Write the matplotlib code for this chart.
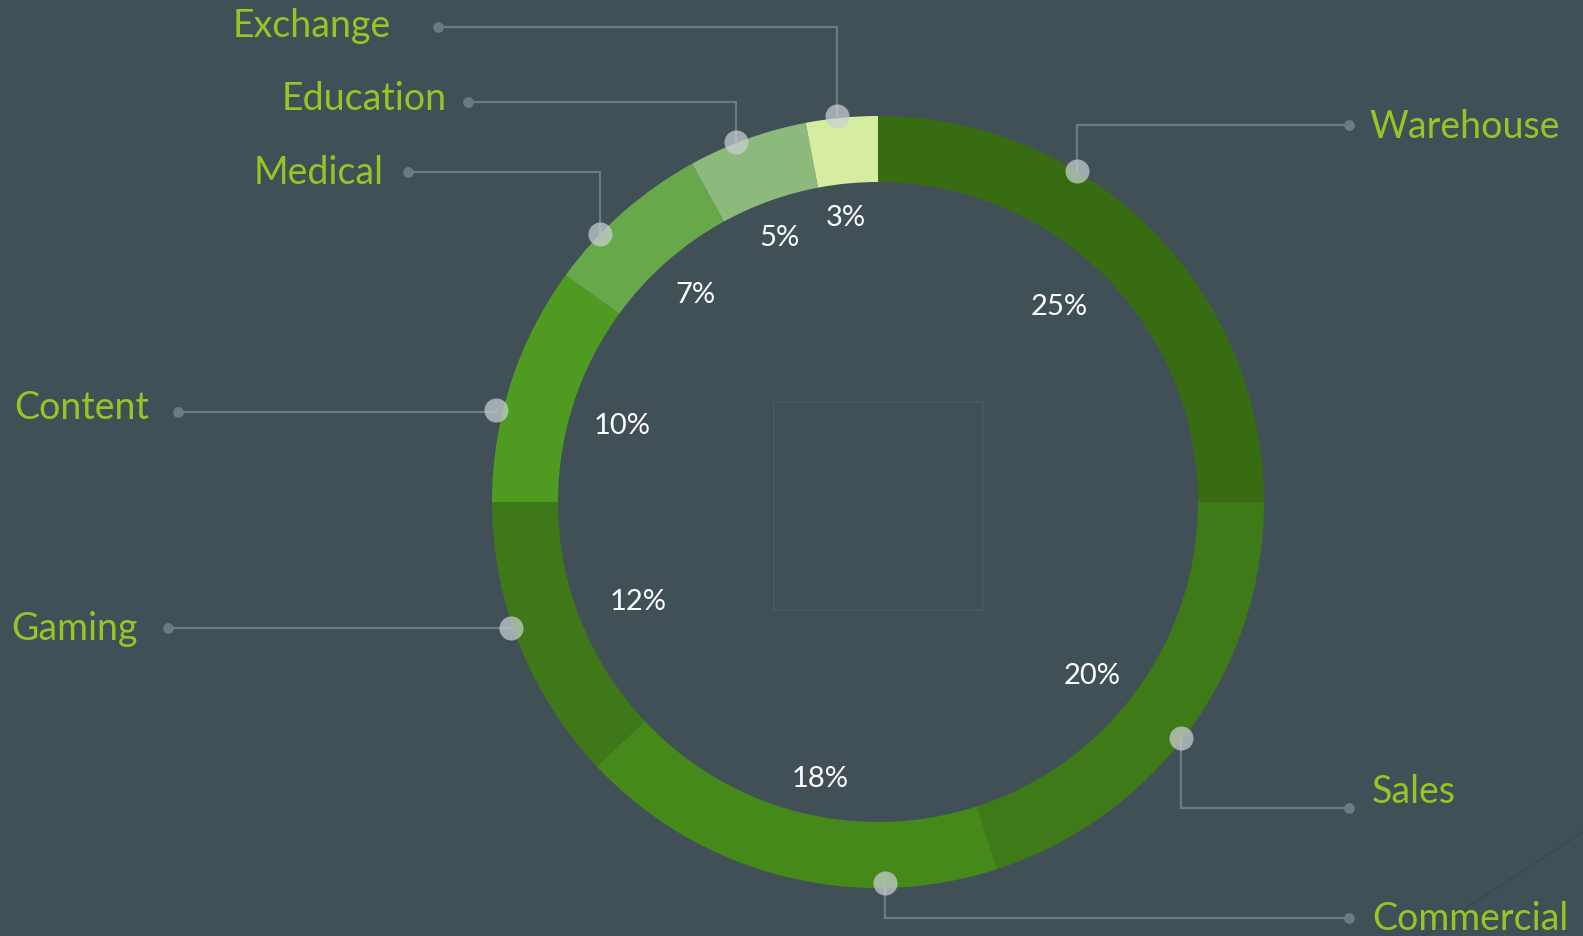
import numpy as np
import matplotlib
matplotlib.use("Agg")
import matplotlib.pyplot as plt
from matplotlib.patches import Rectangle

# data
categories = ["Warehouse", "Sales", "Commercial", "Gaming", "Content", "Medical", "Education", "Exchange"]
shares = [25, 20, 18, 12, 10, 7, 5, 3]
colors = ["#386c13", "#3e7a17", "#46891b", "#3f7819", "#4f9a20", "#67a84a", "#8bba7c", "#d5eca1"]

# layout (pixel space, y measured from top)
W, H = 1583, 937
cx, cy = 878, 503
r_out, ring = 386, 66
# where each leader starts on the ring (deg clockwise from 12 o'clock, radius)
anchor_deg = [31, 128, 179, 251, 283.5, 314, 338.5, 354]
anchor_r = [386, 384, 381, 388, 393, 386, 387, 388]
line_y = [126, 809, 919, 629, 413, 173, 103, 28]
line_end_x = [1349, 1349, 1349, 168, 178, 408, 468, 438]
text_x = [1369, 1372, 1372, 138, 149, 384, 447, 391]
text_y = [127, 792, 919, 629, 408, 173, 99, 26]
# percent label centres
pct_pos = [(1059, 307), (1092, 676), (820, 779), (638, 602),
           (622, 426), (695, 295), (779, 238), (846, 218)]

BG = "#414f57"
LINE = "#6c7a82"
LABEL = "#97c526"

plt.rcParams['font.family'] = ['Lato', 'DejaVu Sans']

fig = plt.figure(figsize=(W / 100, H / 100), dpi=100, facecolor=BG)
ax = fig.add_axes([0, 0, 1, 1])
ax.set_facecolor(BG)

def fy(y):
    return H - y

# faint box in the middle
ax.add_patch(Rectangle((774, fy(611)), 209, 208, fill=False, edgecolor="#4b5a61", lw=1.2))
# faint diagonal at the lower right
ax.plot([1423, 1583], [fy(937), fy(833)], color="#3a474e", lw=1.0)

wedges, _, autotexts = ax.pie(
    shares, colors=colors, startangle=90, counterclock=False,
    center=(cx, fy(cy)), radius=r_out, frame=True,
    autopct=lambda p: f"{p:.0f}%", pctdistance=0.71,
    wedgeprops=dict(width=ring, linewidth=0),
    textprops=dict(color="white", fontsize=21),
)
for t, (x, y) in zip(autotexts, pct_pos):
    t.set_position((x, fy(y)))

for i, name in enumerate(categories):
    th = np.deg2rad(anchor_deg[i])
    px = cx + anchor_r[i] * np.sin(th)
    py = fy(cy) + anchor_r[i] * np.cos(th)
    ly = fy(line_y[i])
    ax.plot([px, px, line_end_x[i]], [py, ly, ly], color=LINE, lw=1.6, zorder=3,
            solid_joinstyle="miter")
    ax.scatter([line_end_x[i]], [ly], s=60, color=LINE, zorder=4, linewidths=0)
    ax.scatter([px], [py], s=300, color="#c9cfd2", alpha=0.72, zorder=5, linewidths=0)
    ha = "left" if line_end_x[i] > cx else "right"
    ax.text(text_x[i], fy(text_y[i]), name, color=LABEL, fontsize=27, ha=ha, va="center")

ax.set_xlim(0, W)
ax.set_ylim(0, H)
ax.set_aspect("equal")
ax.axis("off")

fig.savefig("out.png", dpi=100, facecolor=BG)
